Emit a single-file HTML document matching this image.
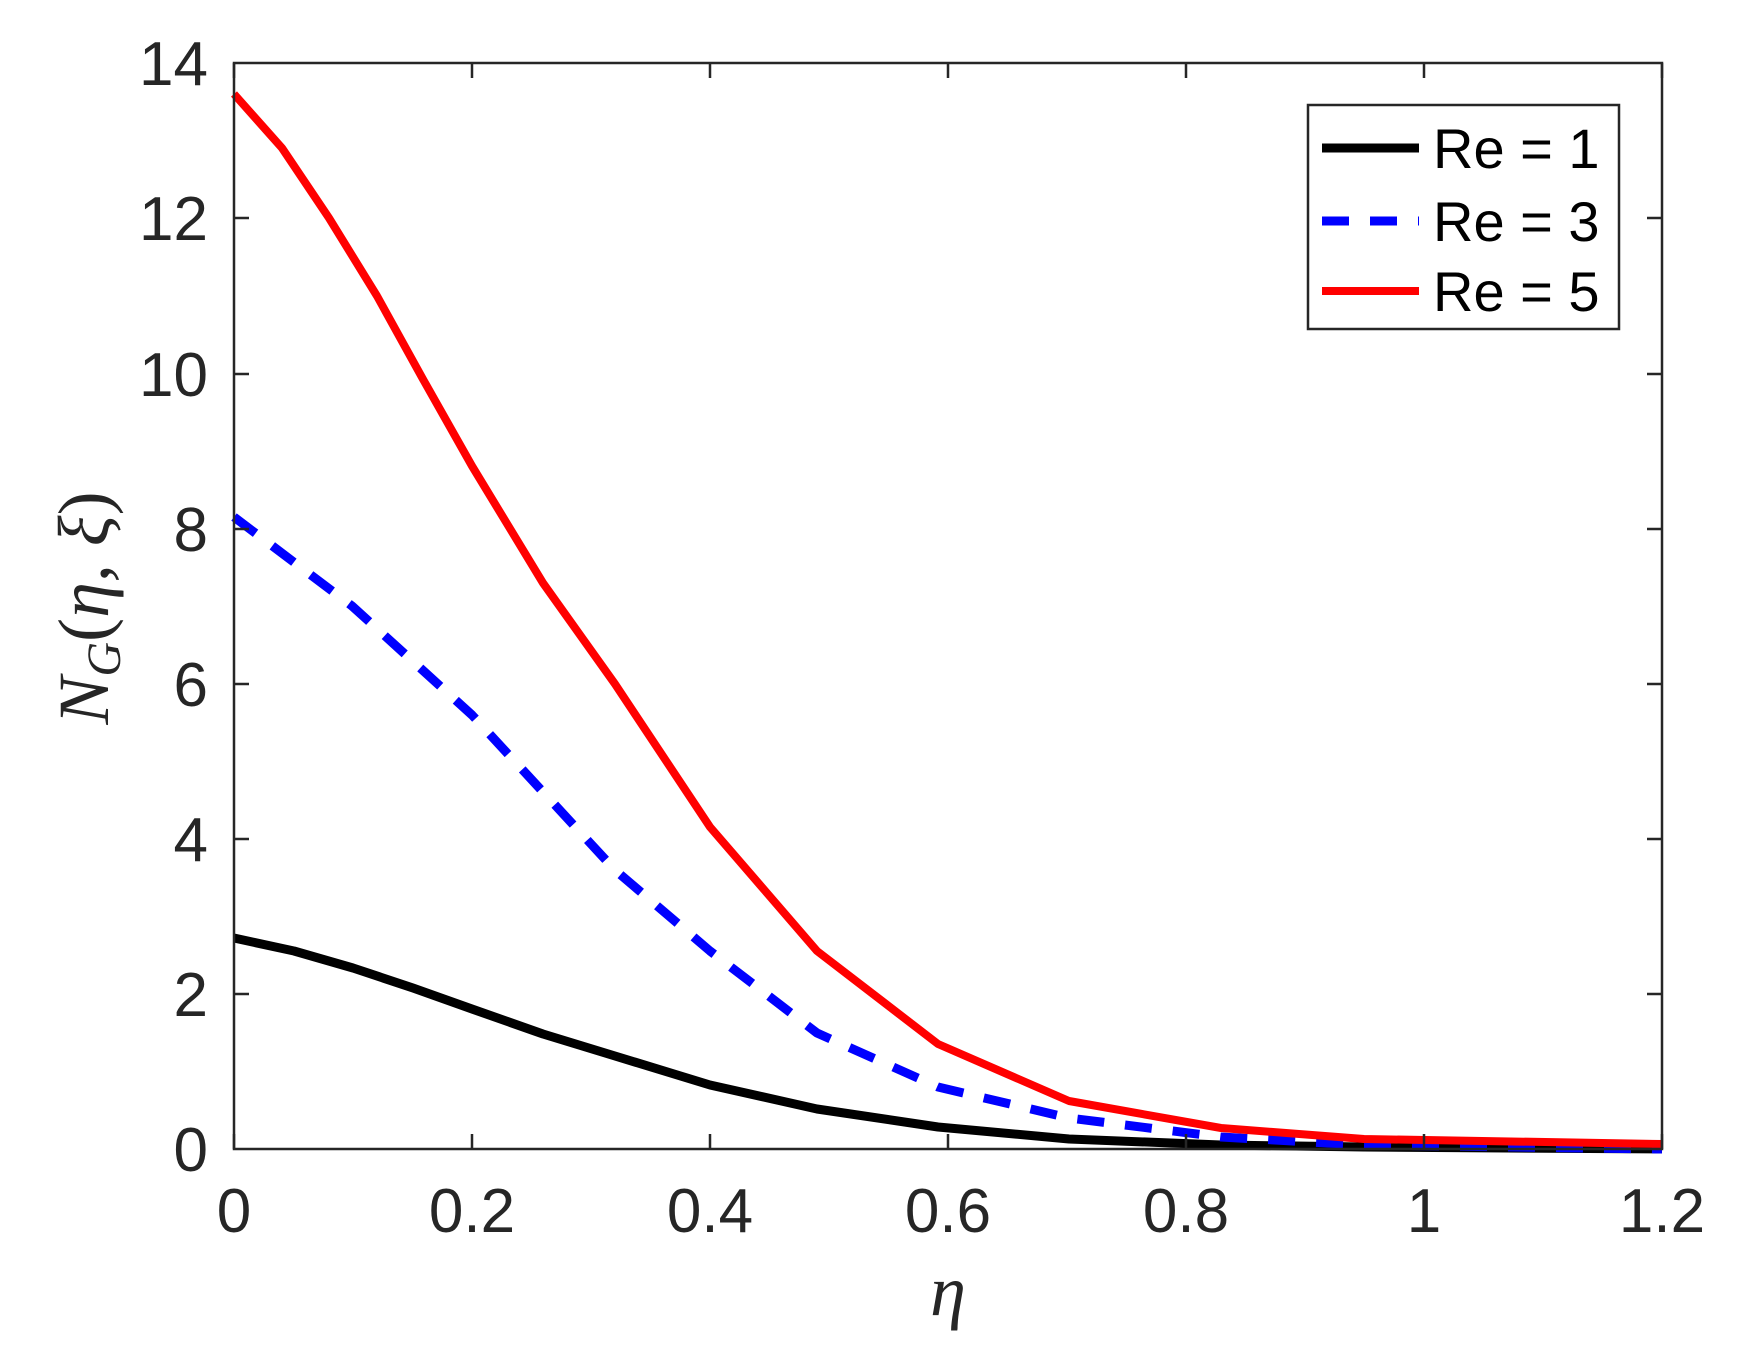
<!DOCTYPE html>
<html><head><style>body{margin:0;background:#fff}</style></head><body>
<svg width="1748" height="1371" xmlns="http://www.w3.org/2000/svg" style="display:block">
<rect width="1748" height="1371" fill="#fff"/>
<g fill="none" stroke-linejoin="round">
<!-- Re=1 black -->
<polyline stroke="#000" stroke-width="9" points="234,938 294,951 353,968 413,988 472,1009 543,1034 615,1056 710,1085 817,1109 938,1127 1069,1139 1221,1145 1364,1147 1662,1149"/>
<!-- Re=3 blue -->
<polyline stroke="#0000ff" stroke-width="9" stroke-dasharray="27,21" points="234,517 352,606 472,715 615,870 710,951 817,1033 938,1087 1069,1118 1221,1137 1364,1145 1662,1149"/>
<!-- Re=5 red -->
<polyline stroke="#ff0000" stroke-width="8" points="234,94 282,148 329,218 377,296 424,381 472,466 543,583 615,684 710,827 817,951 938,1044 1069,1101 1221,1128 1364,1139 1662,1144"/>
</g>
<!-- axes -->
<g stroke="#262626" stroke-width="2.5" fill="none">
<rect x="234" y="63" width="1428" height="1086"/>
<path d="M234,1149v-15M472,1149v-15M710,1149v-15M948,1149v-15M1186,1149v-15M1424,1149v-15M1662,1149v-15
M234,63v15M472,63v15M710,63v15M948,63v15M1186,63v15M1424,63v15M1662,63v15
M234,994h15M234,839h15M234,684h15M234,529h15M234,374h15M234,218h15
M1662,994h-15M1662,839h-15M1662,684h-15M1662,529h-15M1662,374h-15M1662,218h-15"/>
</g>
<g font-family="Liberation Sans, sans-serif" font-size="62" fill="#262626">
<g text-anchor="middle">
<text x="234" y="1232">0</text><text x="472" y="1232">0.2</text><text x="710" y="1232">0.4</text>
<text x="948" y="1232">0.6</text><text x="1186" y="1232">0.8</text><text x="1424" y="1232">1</text><text x="1662" y="1232">1.2</text>
</g>
<g text-anchor="end">
<text x="208" y="1171">0</text><text x="208" y="1016">2</text><text x="208" y="861">4</text><text x="208" y="706">6</text>
<text x="208" y="551">8</text><text x="208" y="396">10</text><text x="208" y="240">12</text><text x="208" y="85">14</text>
</g>
</g>
<g font-family="Liberation Serif, serif" font-style="italic" fill="#262626">
<text x="948" y="1315" font-size="72" text-anchor="middle">η</text>
<text transform="translate(108,608) rotate(-90)" font-size="72" text-anchor="middle">N<tspan font-size="48" dy="12">G</tspan><tspan dy="-12" font-style="normal">(</tspan>η, ξ<tspan font-style="normal">)</tspan></text>
</g>
<!-- legend -->
<rect x="1308" y="105" width="311" height="224" fill="#fff" stroke="#262626" stroke-width="2.5"/>
<line x1="1322" y1="148" x2="1419" y2="148" stroke="#000" stroke-width="9"/>
<line x1="1322" y1="221" x2="1419" y2="221" stroke="#0000ff" stroke-width="9" stroke-dasharray="27,21"/>
<line x1="1322" y1="291" x2="1419" y2="291" stroke="#ff0000" stroke-width="8"/>
<g font-family="Liberation Sans, sans-serif" font-size="56" fill="#000">
<text x="1433" y="168">Re = 1</text><text x="1433" y="241">Re = 3</text><text x="1433" y="311">Re = 5</text>
</g>
</svg>
</body></html>
